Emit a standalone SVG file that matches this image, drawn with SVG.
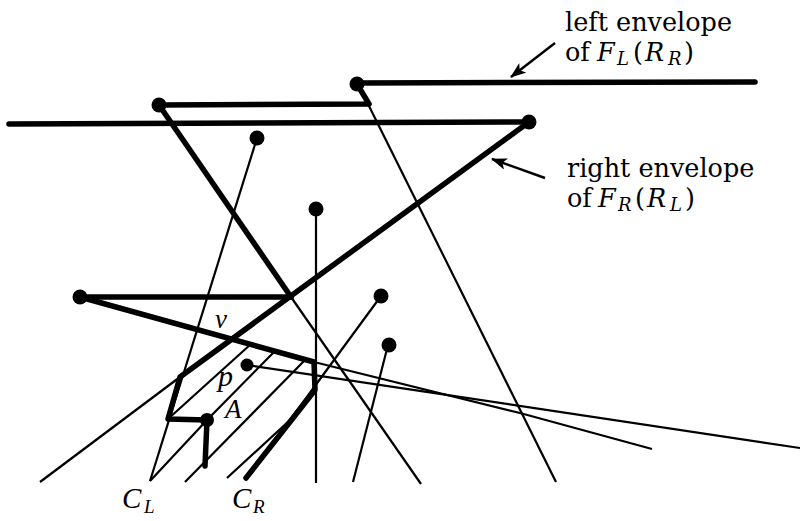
<svg xmlns="http://www.w3.org/2000/svg" width="800" height="521" viewBox="0 0 800 521">
<defs>
<style>
.thick{fill:none;stroke:#000;stroke-width:5.5;stroke-linecap:round;stroke-linejoin:round}
.thin{fill:none;stroke:#000;stroke-width:2.2;stroke-linecap:butt;stroke-linejoin:round}
.arr{fill:none;stroke:#000;stroke-width:2.4}
.dot{fill:#000}
text{font-family:"Liberation Serif","Times New Roman",serif;fill:#000}
.lbl{font-family:"DejaVu Serif","Liberation Serif",serif;font-size:25.5px}
.it{font-style:italic}
.m{font-style:italic}
.sub{font-size:18px;font-style:italic}
.lsub{font-size:19px;font-style:italic}
</style>
<marker id="ah" markerWidth="16" markerHeight="12" refX="15" refY="6" orient="auto" markerUnits="userSpaceOnUse">
<path d="M0,0 L16,6 L0,12 L4,6 z" fill="#000"/>
</marker>
</defs>
<rect width="800" height="521" fill="#fff"/>

<g id="connectors">
<line class="thin" x1="368" y1="104" x2="556" y2="482"/>
<line class="thin" x1="291" y1="297" x2="421" y2="484"/>
<line class="thin" x1="257" y1="138" x2="150" y2="481"/>
<line class="thin" x1="316" y1="209" x2="316" y2="483"/>
<polyline class="thin" points="381,296 290,420 227,478"/>
<line class="thin" x1="388" y1="345" x2="353" y2="482"/>
<line class="thin" x1="247" y1="365" x2="800" y2="448"/>
<polyline class="thin" points="314,362 520,413 652,449"/>
<line class="thin" x1="180" y1="377" x2="40" y2="482"/>
<line class="thin" x1="168" y1="419" x2="251" y2="344"/>
<polyline class="thin" points="150,481 207,420 274,352"/>
<line class="thin" x1="185" y1="482" x2="304" y2="361"/>
<line class="thick" x1="357" y1="83" x2="755" y2="82"/>
<polyline class="thick" points="357,84 369,104 159,105"/>
<line class="thick" x1="9" y1="124" x2="529" y2="122"/>
<line class="thick" x1="159" y1="105" x2="291" y2="297"/>
<polyline class="thick" points="529,122 180,377 168,419 207,420 205,466"/>
<line class="thick" x1="80" y1="297" x2="291" y2="297"/>
<polyline class="thick" points="80,297 314,362 315,390 246,478"/>
<line class="arr" x1="555" y1="43" x2="511" y2="77" marker-end="url(#ah)"/>
<line class="arr" x1="545" y1="178" x2="492" y2="159" marker-end="url(#ah)"/>
</g>

<g id="n1"><circle class="dot" cx="159" cy="105" r="7.5"/></g>
<g id="n2"><circle class="dot" cx="357" cy="84" r="7.5"/></g>
<g id="n3"><circle class="dot" cx="529" cy="122" r="7.5"/></g>
<g id="n4"><circle class="dot" cx="257" cy="138" r="7.5"/></g>
<g id="n5"><circle class="dot" cx="316" cy="209" r="7.5"/></g>
<g id="n6"><circle class="dot" cx="80" cy="297" r="7.5"/></g>
<g id="n7"><circle class="dot" cx="381" cy="296" r="7.5"/></g>
<g id="n8"><circle class="dot" cx="389" cy="345" r="7.5"/></g>
<g id="n9"><circle class="dot" cx="247" cy="365" r="6.5"/></g>
<g id="n10"><circle class="dot" cx="207" cy="420" r="7"/></g>

<g id="labels">
<text class="lbl" x="565" y="31">left envelope</text>
<text class="lbl" y="61"><tspan x="565">of</tspan><tspan class="m" x="597">F</tspan><tspan class="sub" x="617" dy="4">L</tspan><tspan x="633" dy="-4">(</tspan><tspan class="m" x="645">R</tspan><tspan class="sub" x="668" dy="4">R</tspan><tspan x="684" dy="-4">)</tspan></text>
<text class="lbl" x="567" y="177">right envelope</text>
<text class="lbl" y="207"><tspan x="567">of</tspan><tspan class="m" x="598">F</tspan><tspan class="sub" x="618" dy="4">R</tspan><tspan x="635" dy="-4">(</tspan><tspan class="m" x="647">R</tspan><tspan class="sub" x="670" dy="4">L</tspan><tspan x="685" dy="-4">)</tspan></text>
<text class="it" x="215" y="328" font-size="27">v</text>
<text class="it" x="218" y="386" font-size="30">p</text>
<text class="it" x="225" y="418" font-size="27">A</text>
<text y="508"><tspan class="it" x="122" font-size="29">C</tspan><tspan class="lsub" x="144" dy="5">L</tspan></text>
<text y="508"><tspan class="it" x="232" font-size="29">C</tspan><tspan class="lsub" x="253" dy="5">R</tspan></text>
</g>
</svg>
